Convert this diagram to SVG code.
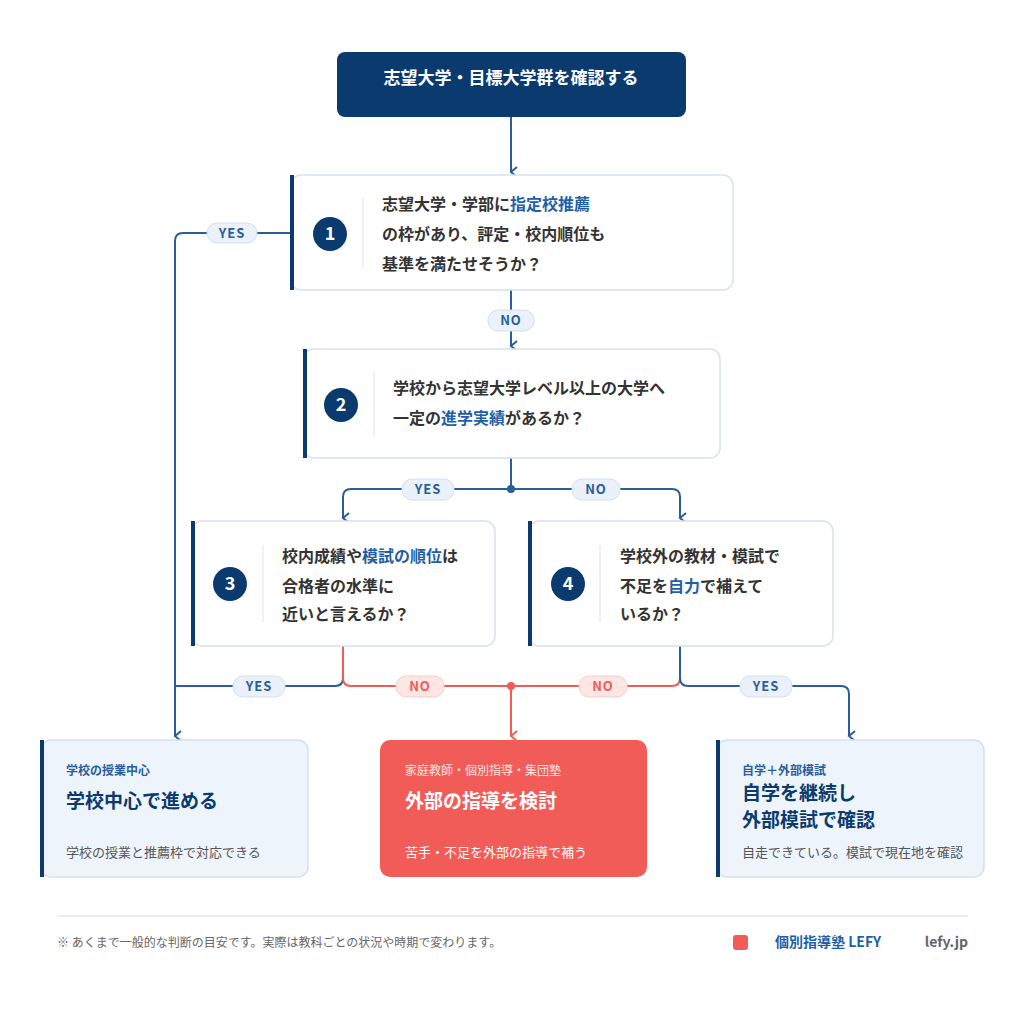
<svg xmlns="http://www.w3.org/2000/svg" width="1024" height="1024" viewBox="0 0 1024 1024">
<defs>
<marker id="ab" viewBox="0 0 12 12" refX="6" refY="10" markerWidth="12" markerHeight="12" markerUnits="userSpaceOnUse" orient="auto-start-reverse"><path d="M1,4 L6,10 L11,4" fill="none" stroke="#2a5d9a" stroke-width="2"/></marker>
<marker id="ar" viewBox="0 0 12 12" refX="6" refY="10" markerWidth="12" markerHeight="12" markerUnits="userSpaceOnUse" orient="auto-start-reverse"><path d="M1,4 L6,10 L11,4" fill="none" stroke="#f25c58" stroke-width="2"/></marker>
</defs>
<style>
text{font-family:"Noto Sans CJK JP","Noto Sans",sans-serif}
.q{font-size:16px;font-weight:700;fill:#333}
.hl{fill:#1f5fa8}
.card{fill:#fff;stroke:#d8e1ec;stroke-width:1.5}
.bar{fill:#0b3a6e}
.num{fill:#0b3a6e}
.nt{fill:#fff;font-size:18px;font-weight:700;text-anchor:middle}
.div{stroke:#e3e8ef;stroke-width:1.2}
.cb{fill:none;stroke:#2a5d9a;stroke-width:2}
.cr{fill:none;stroke:#f25c58;stroke-width:2}
.pb{fill:#eaf1fa;stroke:#d3e0ef;stroke-width:1}
.pr{fill:#fde6e4;stroke:#f6cfcb;stroke-width:1}
.pt{font-size:13px;font-weight:700;text-anchor:middle;letter-spacing:1px}
.res{fill:#eef4fb;stroke:#d3e0ef;stroke-width:1.5}
.sl{font-size:12px;font-weight:700;fill:#2a5d9a}
.ti{font-size:19px;font-weight:700;fill:#0b3a6e}
.bt{font-size:13px;fill:#555}
</style>
<rect width="1024" height="1024" fill="#fff"/>

<g id="connectors">
<path class="cb" d="M511,117 V172" marker-end="url(#ab)"/>
<path class="cb" d="M291,233 H183 Q175,233 175,241 V736" marker-end="url(#ab)"/>
<path class="cb" d="M511,290 V346" marker-end="url(#ab)"/>
<path class="cb" d="M511,458 V489"/>
<path class="cb" d="M511,489 H351 Q343,489 343,497 V518" marker-end="url(#ab)"/>
<path class="cb" d="M511,489 H672 Q680,489 680,497 V518" marker-end="url(#ab)"/>
<circle cx="511" cy="489" r="4" fill="#2a5d9a"/>
<path class="cb" d="M343,646 V678 Q343,686 335,686 H175"/>
<path class="cr" d="M343,646 V678 Q343,686 351,686 H511"/>
<path class="cr" d="M680,646 V678 Q680,686 672,686 H511"/>
<path class="cb" d="M680,646 V678 Q680,686 688,686 H841 Q849,686 849,694 V736" marker-end="url(#ab)"/>
<path class="cr" d="M511,686 V736" marker-end="url(#ar)"/>
<circle cx="511" cy="686" r="4" fill="#f25c58"/>
<rect class="pb" x="207" y="223" width="50" height="20" rx="10"/><text class="pt" x="232" y="238" fill="#2a5d9a">YES</text>
<rect class="pb" x="488" y="310" width="46" height="21" rx="10"/><text class="pt" x="511" y="325" fill="#2a5d9a">NO</text>
<rect class="pb" x="402" y="479" width="52" height="21" rx="10"/><text class="pt" x="428" y="494" fill="#2a5d9a">YES</text>
<rect class="pb" x="572" y="479" width="48" height="21" rx="10"/><text class="pt" x="596" y="494" fill="#2a5d9a">NO</text>
<rect class="pb" x="233" y="676" width="52" height="21" rx="10"/><text class="pt" x="259" y="691" fill="#2a5d9a">YES</text>
<rect class="pr" x="396" y="676" width="48" height="21" rx="10"/><text class="pt" x="420" y="691" fill="#f25c58">NO</text>
<rect class="pr" x="579" y="676" width="48" height="21" rx="10"/><text class="pt" x="603" y="691" fill="#f25c58">NO</text>
<rect class="pb" x="740" y="676" width="52" height="21" rx="10"/><text class="pt" x="766" y="691" fill="#2a5d9a">YES</text>
</g>

<g id="start">
<rect x="337" y="52" width="349" height="65" rx="8" fill="#0b3a6e"/>
<text x="511" y="84" fill="#fff" font-size="17" font-weight="700" text-anchor="middle">志望大学・目標大学群を確認する</text>
</g>

<g id="q1">
<rect class="card" x="291" y="175" width="442" height="115" rx="10"/>
<rect class="bar" x="290" y="175" width="4" height="115"/>
<circle class="num" cx="330" cy="234" r="17"/><text class="nt" x="330" y="240">1</text>
<line class="div" x1="363" y1="198" x2="363" y2="268"/>
<text class="q" x="382" y="210">志望大学・学部に<tspan class="hl">指定校推薦</tspan></text>
<text class="q" x="382" y="240">の枠があり、評定・校内順位も</text>
<text class="q" x="382" y="270">基準を満たせそうか？</text>
</g>

<g id="q2">
<rect class="card" x="304" y="349" width="416" height="109" rx="10"/>
<rect class="bar" x="303" y="349" width="4" height="109"/>
<circle class="num" cx="341" cy="405" r="17"/><text class="nt" x="341" y="411">2</text>
<line class="div" x1="374" y1="372" x2="374" y2="436"/>
<text class="q" x="393" y="394">学校から志望大学レベル以上の大学へ</text>
<text class="q" x="393" y="424">一定の<tspan class="hl">進学実績</tspan>があるか？</text>
</g>

<g id="q3">
<rect class="card" x="192" y="521" width="303" height="125" rx="10"/>
<rect class="bar" x="191" y="521" width="4" height="125"/>
<circle class="num" cx="230" cy="584" r="17"/><text class="nt" x="230" y="590">3</text>
<line class="div" x1="263" y1="545" x2="263" y2="622"/>
<text class="q" x="282" y="562">校内成績や<tspan class="hl">模試の順位</tspan>は</text>
<text class="q" x="282" y="592">合格者の水準に</text>
<text class="q" x="282" y="620">近いと言えるか？</text>
</g>

<g id="q4">
<rect class="card" x="529" y="521" width="304" height="125" rx="10"/>
<rect class="bar" x="528" y="521" width="4" height="125"/>
<circle class="num" cx="568" cy="584" r="17"/><text class="nt" x="568" y="590">4</text>
<line class="div" x1="600" y1="545" x2="600" y2="622"/>
<text class="q" x="620" y="562">学校外の教材・模試で</text>
<text class="q" x="620" y="592">不足を<tspan class="hl">自力</tspan>で補えて</text>
<text class="q" x="620" y="620">いるか？</text>
</g>

<g id="r1">
<rect class="res" x="41" y="740" width="267" height="137" rx="10"/>
<rect class="bar" x="40" y="740" width="4" height="137"/>
<text class="sl" x="66" y="775">学校の授業中心</text>
<text class="ti" x="66" y="808">学校中心で進める</text>
<text class="bt" x="66" y="857">学校の授業と推薦枠で対応できる</text>
</g>

<g id="r2">
<rect x="380" y="740" width="267" height="137" rx="10" fill="#f25c58"/>
<text x="405" y="775" font-size="12" fill="#fde3e1">家庭教師・個別指導・集団塾</text>
<text x="405" y="808" font-size="19" font-weight="700" fill="#fff">外部の指導を検討</text>
<text x="405" y="857" font-size="13" fill="#fff">苦手・不足を外部の指導で補う</text>
</g>

<g id="r3">
<rect class="res" x="717" y="740" width="267" height="137" rx="10"/>
<rect class="bar" x="716" y="740" width="4" height="137"/>
<text class="sl" x="742" y="775">自学＋外部模試</text>
<text class="ti" x="742" y="800">自学を継続し</text>
<text class="ti" x="742" y="827">外部模試で確認</text>
<text class="bt" x="742" y="857">自走できている。模試で現在地を確認</text>
</g>

<g id="footer">
<line x1="57" y1="916" x2="968" y2="916" stroke="#e3e8ef" stroke-width="1.5"/>
<text x="57" y="947" font-size="12" fill="#666">※ あくまで一般的な判断の目安です。実際は教科ごとの状況や時期で変わります。</text>
<rect x="733" y="935" width="15" height="15" rx="3" fill="#f25c58"/>
<text x="775" y="947" font-size="14" font-weight="700" fill="#1f5fa8">個別指導塾 LEFY</text>
<text x="968" y="947" font-size="14" font-weight="700" fill="#666" text-anchor="end">lefy.jp</text>
</g>
</svg>
